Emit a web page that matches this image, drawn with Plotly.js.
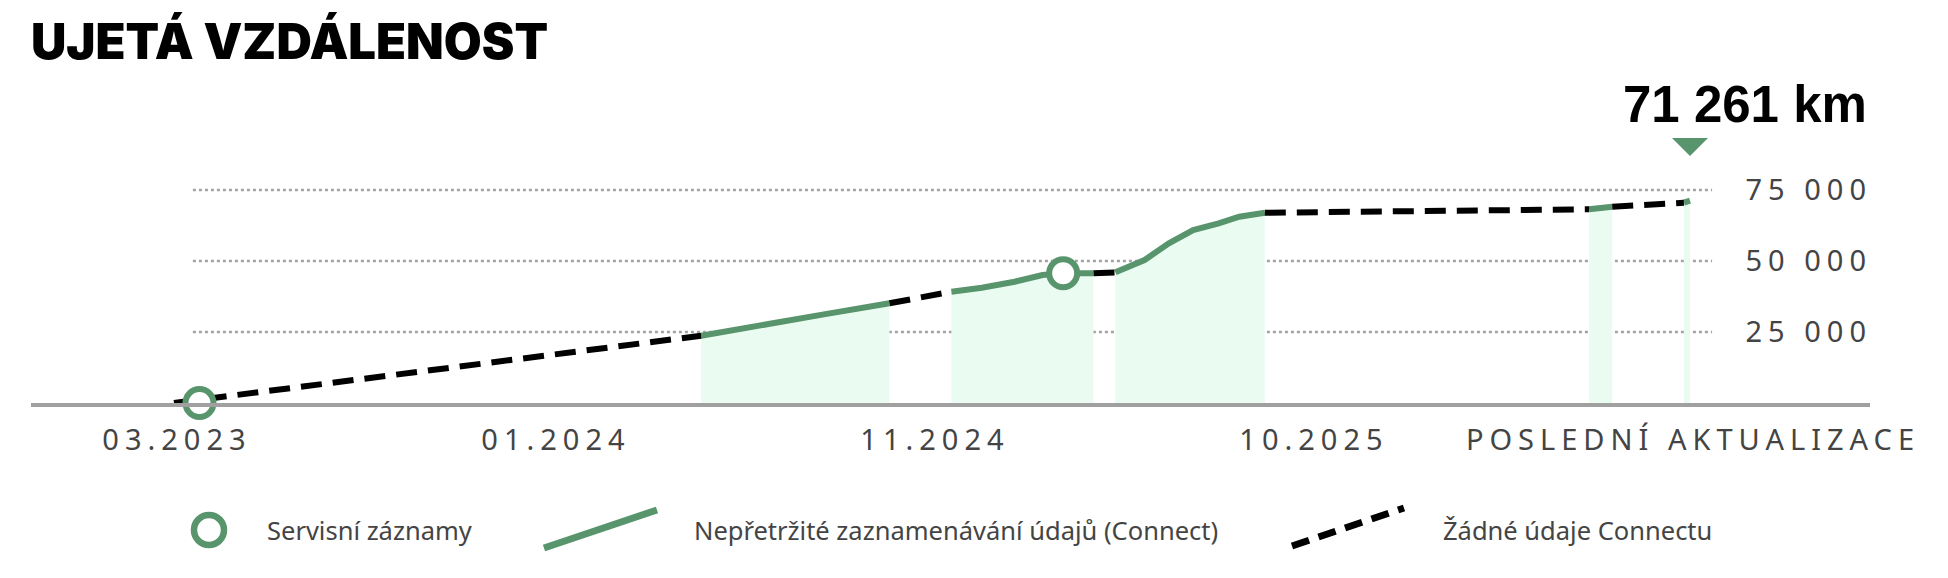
<!DOCTYPE html>
<html>
<head>
<meta charset="utf-8">
<script src="https://cdn.plot.ly/plotly-3.0.1.min.js"></script>
<style>
  html, body { margin: 0; padding: 0; background: #fff; }
  #myDiv { width: 1948px; height: 578px; }
</style>
</head>
<body>
<div id="myDiv"></div>
<script>
// mileage readings (date, km)
var dates = ['2023-03-13', '2024-05-20', '2024-06-15', '2024-07-12', '2024-08-29', '2024-10-22',
  '2024-12-12', '2025-01-06', '2025-02-02', '2025-02-25', '2025-03-14', '2025-04-08',
  '2025-04-26', '2025-05-20', '2025-06-09', '2025-06-29', '2025-07-20', '2025-08-06', '2025-08-27',
  '2026-05-21', '2026-06-09', '2026-08-07', '2026-08-12'];
var km = [0, 23700, 25700, 27800, 31200, 35100,
  39200, 40600, 42700, 45070, 45660, 45660,
  46000, 50350, 56230, 60900, 63270, 65600, 67000,
  68200, 69130, 70530, 71261];

// index ranges recorded by Connect, the rest are gaps without data
var connectRuns = [[1, 5], [6, 11], [12, 18], [19, 20], [21, 22]];

// service records
var serviceDates = ['2023-04-03', '2025-03-14'];
var serviceKm = [0, 45660];

var tickDates = ['2023-03-13', '2024-01-19', '2024-11-26', '2025-10-04', '2026-08-12'];
var tickLabels = ['03.2023', '01.2024', '11.2024', '10.2025', 'POSLEDNÍ AKTUALIZACE'];
var yTicks = [25000, 50000, 75000];
var yLabels = ['25 000', '50 000', '75 000'];

var legendLabels = ['Servisní záznamy', 'Nepřetržité zaznamenávání údajů (Connect)', 'Žádné údaje Connectu'];
var lastValue = '71 261 km';

var GREEN = '#58956c';
var FILL = '#eafcf1';
var TRACK = 6; // letter spacing of axis labels, px

var data = [];

// connect runs: filled area + green line
connectRuns.forEach(function(r) {
  data.push({
    x: dates.slice(r[0], r[1] + 1),
    y: km.slice(r[0], r[1] + 1),
    mode: 'lines',
    fill: 'tozeroy',
    fillcolor: FILL,
    line: {color: GREEN, width: 6},
    hoverinfo: 'skip',
    cliponaxis: false
  });
});

// gaps without data: dashed black
var gx = [], gy = [];
for (var i = 0; i < connectRuns.length; i++) {
  var from = i === 0 ? 0 : connectRuns[i - 1][1];
  var to = connectRuns[i][0];
  gx.push(dates[from], dates[to], null);
  gy.push(km[from], km[to], null);
}
data.push({
  x: gx, y: gy, mode: 'lines', connectgaps: false,
  line: {color: '#000', width: 6, dash: '21px,11px'},
  hoverinfo: 'skip', cliponaxis: false
});

data.push({
  x: serviceDates,
  y: serviceKm,
  mode: 'markers',
  marker: {symbol: 'circle', size: 28, color: '#fff', line: {color: GREEN, width: 6}},
  hoverinfo: 'skip', cliponaxis: false
});

// pixel helpers for decorations outside the data
var L = 31, R = 1870, T = 120, B = 403;
const px = (v) => (v - L) / (R - L);
const py = (v) => (B - v) / (B - T);

var lastDate = dates[dates.length - 1];

var shapes = yTicks.map(function(v) {
  return {
    type: 'line', xref: 'x', yref: 'y', layer: 'below',
    x0: '2023-03-28 14:00', x1: '2026-08-30 05:00', y0: v, y1: v,
    line: {color: '#a3a3a3', width: 2.5, dash: '3px,3px'}
  };
});

// marker above last value
shapes.push({
  type: 'path', xref: 'x', yref: 'y',
  xsizemode: 'pixel', ysizemode: 'pixel',
  xanchor: lastDate, yanchor: 90140,
  path: 'M-18,9 L18,9 L0,-9 Z',
  fillcolor: GREEN, line: {width: 0}
});

// legend symbols
shapes.push({
  type: 'circle', xref: 'paper', yref: 'paper',
  x0: px(194), x1: px(224), y0: py(545), y1: py(515),
  fillcolor: '#fff', line: {color: GREEN, width: 6.5}
});
shapes.push({
  type: 'line', xref: 'paper', yref: 'paper',
  x0: px(544), y0: py(548), x1: px(657), y1: py(510),
  line: {color: GREEN, width: 7}
});
shapes.push({
  type: 'line', xref: 'paper', yref: 'paper',
  x0: px(1292), y0: py(546), x1: px(1404), y1: py(508),
  line: {color: '#000', width: 7, dash: '18px,10px'}
});

var legendX = [265, 692, 1441];
var annotations = legendLabels.map(function(t, i) {
  return {
    text: t, xref: 'paper', yref: 'paper', x: px(legendX[i]), y: py(530),
    xanchor: 'left', yanchor: 'middle', showarrow: false,
    font: {family: 'Noto Sans', size: 25.5, color: '#444'}
  };
});
annotations.push({
  text: lastValue, xref: 'paper', yref: 'paper', x: px(1869), y: py(104),
  xanchor: 'right', yanchor: 'middle', showarrow: false,
  font: {family: 'Liberation Sans', size: 51, weight: 700, color: '#000'}
});

var layout = {
  width: 1948, height: 578,
  margin: {l: L, r: 1948 - R, t: T, b: 578 - B},
  paper_bgcolor: '#fff', plot_bgcolor: '#fff',
  showlegend: false,
  title: {
    text: 'UJETÁ VZDÁLENOST',
    xref: 'container', yref: 'container', x: 31 / 1948, xanchor: 'left',
    y: 0.958, yanchor: 'top',
    font: {family: 'Inter', size: 49, weight: 900, color: '#000'}
  },
  xaxis: {
    type: 'date',
    range: ['2022-11-15 07:00', '2027-01-07 05:00'],
    tickvals: tickDates, ticktext: tickLabels,
    ticks: '', showgrid: false, zeroline: false,
    showline: true, linecolor: '#a0a0a0', linewidth: 3.5,
    ticklabelstandoff: 9,
    tickfont: {family: 'Noto Sans', size: 29, color: '#444'}
  },
  yaxis: {
    range: [0, 99648],
    side: 'right', ticklabelposition: 'inside',
    tickvals: yTicks, ticktext: yLabels,
    ticks: '', showgrid: false, zeroline: false, showline: false,
    tickfont: {family: 'Noto Sans', size: 29, color: '#444'}
  },
  shapes: shapes,
  annotations: annotations
};

Plotly.newPlot('myDiv', data, layout, {staticPlot: true}).then(function(gd) {
  // tracked (letter-spaced) axis labels, shifted back by the trailing spacing
  gd.querySelectorAll('.xtick text').forEach(function(t) {
    t.style.letterSpacing = TRACK + 'px';
    t.setAttribute('dx', TRACK / 2);
  });
  gd.querySelectorAll('.ytick text').forEach(function(t) {
    t.style.letterSpacing = TRACK + 'px';
    t.setAttribute('dx', TRACK - 1);
  });
});
</script>
</body>
</html>
